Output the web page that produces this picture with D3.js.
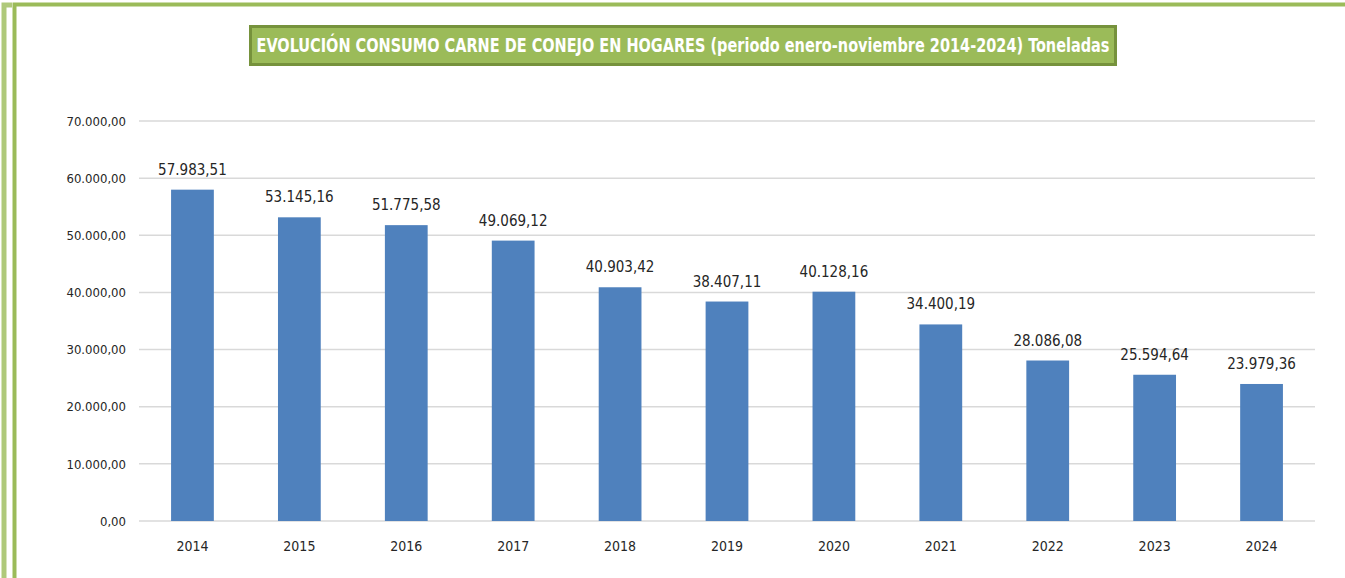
<!DOCTYPE html>
<html>
<head>
<meta charset="utf-8">
<script src="https://cdn.jsdelivr.net/npm/d3@7"></script>
<style>
  html, body { margin: 0; padding: 0; background: #fff; }
  svg { display: block; }
</style>
</head>
<body>
<div id="chart"></div>
<script>
// consumo carne de conejo en hogares, ene-nov, toneladas
const years = ['2014', '2015', '2016', '2017', '2018', '2019', '2020', '2021', '2022', '2023', '2024'];
const tonnes = [57983.51, 53145.16, 51775.58, 49069.12, 40903.42, 38407.11, 40128.16, 34400.19, 28086.08, 25594.64, 23979.36];
const yTicks = [0, 10000, 20000, 30000, 40000, 50000, 60000, 70000];
const title = 'EVOLUCIÓN CONSUMO CARNE DE CONEJO EN HOGARES (periodo enero-noviembre 2014-2024) Toneladas';

const W = 1345, H = 578;
const font = '"Liberation Sans Narrow", "DejaVu Sans Condensed", sans-serif';

const es = d3.formatLocale({ decimal: ',', thousands: '.', grouping: [3], currency: ['', ''] });
const fmt = es.format(',.2f');

const svg = d3.select('#chart').append('svg')
    .attr('width', W)
    .attr('height', H);

svg.append('rect').attr('width', W).attr('height', H).attr('fill', '#fff');

// frame bits (the left one is a piece of the sheet behind)
svg.append('path')
    .attr('d', 'M4,578 L4,5 L12,5')
    .attr('fill', 'none')
    .attr('stroke', '#9bbb59')
    .attr('stroke-width', 5)
    .attr('opacity', 0.8);
svg.append('path')
    .attr('d', 'M14.5,578 L14.5,4.5 L1345,4.5')
    .attr('fill', 'none')
    .attr('stroke', '#9bbb59')
    .attr('stroke-width', 4);

// title box
svg.append('rect')
    .attr('x', 250.5).attr('y', 26.5)
    .attr('width', 865).attr('height', 38)
    .attr('fill', '#9bbb59')
    .attr('stroke', '#76923c')
    .attr('stroke-width', 3);
svg.append('text')
    .attr('x', 683).attr('y', 52)
    .attr('text-anchor', 'middle')
    .attr('font-family', font)
    .attr('font-weight', 'bold')
    .attr('font-size', 19)
    .attr('fill', '#fff')
    .attr('textLength', 853)
    .attr('lengthAdjust', 'spacingAndGlyphs')
    .text(title);

const margin = { left: 139, right: 30, top: 121, bottom: 57 };
const x = d3.scaleBand().domain(years).range([margin.left, W - margin.right]).paddingInner(0.6).paddingOuter(0.3);
const y = d3.scaleLinear().domain([0, 70000]).range([H - margin.bottom, margin.top]);

// gridlines
svg.append('g')
    .selectAll('line')
    .data(yTicks)
    .join('line')
    .attr('x1', margin.left)
    .attr('x2', W - margin.right)
    .attr('y1', d => y(d))
    .attr('y2', d => y(d))
    .attr('stroke', '#d9d9d9')
    .attr('stroke-width', 1.5);

// y axis labels
const yAxis = svg.append('g')
    .attr('transform', 'translate(' + (margin.left - 13) + ',0)')
    .call(d3.axisLeft(y).tickValues(yTicks).tickFormat(fmt).tickSize(0).tickPadding(0));
yAxis.select('.domain').remove();
yAxis.selectAll('text')
    .attr('font-family', font)
    .attr('font-size', 13)
    .attr('fill', '#262626');

// bars
svg.append('g')
    .selectAll('rect')
    .data(tonnes)
    .join('rect')
    .attr('x', (d, i) => x(years[i]))
    .attr('y', d => y(d))
    .attr('width', x.bandwidth())
    .attr('height', d => y(0) - y(d))
    .attr('fill', '#4f81bd');

// value labels
svg.append('g')
    .selectAll('text')
    .data(tonnes)
    .join('text')
    .attr('x', (d, i) => x(years[i]) + x.bandwidth() / 2)
    .attr('y', d => y(d) - 15)
    .attr('text-anchor', 'middle')
    .attr('font-family', font)
    .attr('font-size', 15)
    .attr('fill', '#262626')
    .text(d => fmt(d));

// x axis labels
const xAxis = svg.append('g')
    .attr('transform', 'translate(0,' + y(0) + ')')
    .call(d3.axisBottom(x).tickSize(0).tickPadding(20));
xAxis.select('.domain').remove();
xAxis.selectAll('text')
    .attr('font-family', font)
    .attr('font-size', 14)
    .attr('fill', '#262626');
</script>
</body>
</html>
